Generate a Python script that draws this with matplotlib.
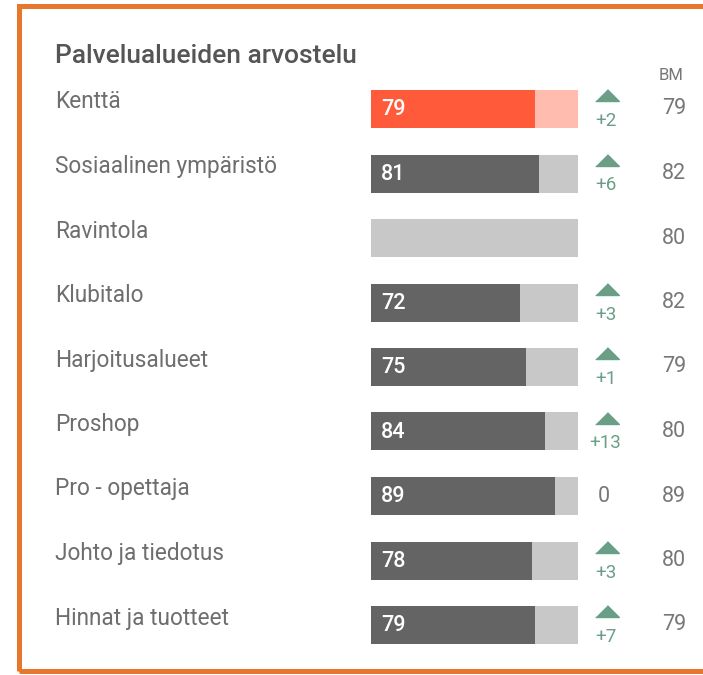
import matplotlib
matplotlib.use("Agg")
import matplotlib.pyplot as plt
from matplotlib.transforms import blended_transform_factory
from matplotlib.patches import Rectangle

categories = ["Kenttä", "Sosiaalinen ympäristö", "Ravintola", "Klubitalo",
              "Harjoitusalueet", "Proshop", "Pro - opettaja",
              "Johto ja tiedotus", "Hinnat ja tuotteet"]
scores = [79, 81, None, 72, 75, 84, 89, 78, 79]
changes = [2, 6, None, 3, 1, 13, 0, 3, 7]
benchmark = [79, 82, 80, 82, 79, 80, 89, 80, 79]
scale_max = 100
title = "Palvelualueiden arvostelu"

W, H = 703, 675
fig = plt.figure(figsize=(W / 100, H / 100), dpi=100)
plt.rcParams['font.family'] = ['Roboto', 'DejaVu Sans']

def fx(px):
    return px / W

def fy(py):
    return 1 - py / H

row0, step = 109, 64.5
n = len(categories)
top_px = row0 - step / 2
bot_px = row0 + step * (n - 1) + step / 2
ax = fig.add_axes([fx(371), fy(bot_px), fx(578) - fx(371), fy(top_px) - fy(bot_px)])
ax.set_xlim(0, scale_max)
ax.set_ylim(n - 0.5, -0.5)
ax.axis("off")

bh = 38 / step
for i, (s, c) in enumerate(zip(scores, changes)):
    first = i == 0
    bg = "#FFBCAF" if first else "#C8C8C8"
    fg = "#FF5B3B" if first else "#646464"
    ax.barh(i, scale_max, height=bh, color=bg, linewidth=0)
    if s is not None:
        ax.barh(i, s, height=bh, color=fg, linewidth=0)
        ax.text(4.8, i + 0.01, f"{s}", color="white", fontsize=15.5, fontweight="medium",
                ha="left", va="center")

tr = blended_transform_factory(fig.transFigure, ax.transData)
green = "#6A9E86"
for i, (lab, c, b) in enumerate(zip(categories, changes, benchmark)):
    fig.text(fx(55), i - 7 / step, lab, transform=tr, fontsize=16.3, color="#6E6E6E",
             ha="left", va="center")
    fig.text(fx(674), i, f"{b}", transform=tr, fontsize=15.5, color="#777777",
             ha="center", va="center")
    if c is None:
        continue
    if c == 0:
        fig.text(fx(604), i, "0", transform=tr, fontsize=15.5, color="#777777",
                 ha="center", va="center")
    else:
        ax.plot([fx(606.5)], [i - 8 / step], transform=tr, marker=[(-1, 0), (1, 0), (0, 1)],
                markersize=17, color=green, clip_on=False, linestyle="none")
        fig.text(fx(605.5), i + 12 / step, f"+{c}", transform=tr, fontsize=13.5, color=green,
                 ha="center", va="center")

fig.text(fx(55), fy(56), title, fontsize=19, fontweight="medium", color="#555555",
         ha="left", va="center")
fig.text(fx(671), fy(76), "BM", fontsize=12, color="#777777", ha="center", va="center")

fig.patches.append(Rectangle((fx(18.5), fy(671)), fx(800) - fx(18.5), fy(6) - fy(671),
                             transform=fig.transFigure, fill=False,
                             edgecolor="#E8772E", linewidth=3.6))

fig.savefig("out.png", dpi=100)
